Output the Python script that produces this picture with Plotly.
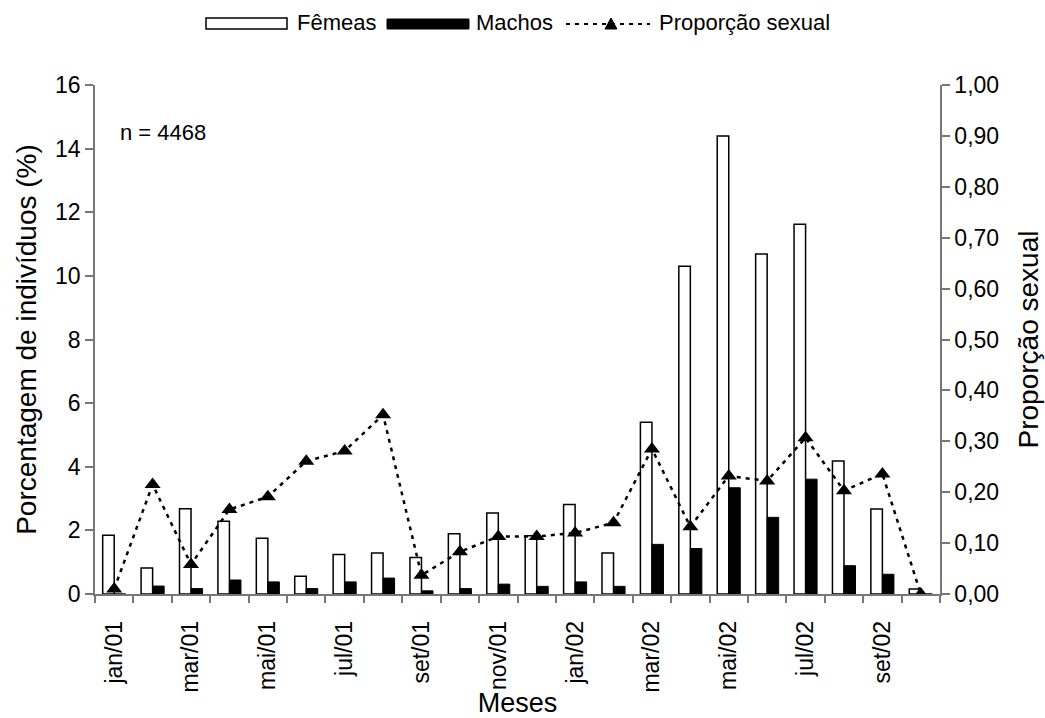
import plotly.graph_objects as go

# Monthly sampling, jan/2001 - out/2002
meses = ["jan/01", "fev/01", "mar/01", "abr/01", "mai/01", "jun/01", "jul/01",
         "ago/01", "set/01", "out/01", "nov/01", "dez/01", "jan/02", "fev/02",
         "mar/02", "abr/02", "mai/02", "jun/02", "jul/02", "ago/02", "set/02",
         "out/02"]

# Percentage of individuals (%)
femeas = [1.85, 0.82, 2.68, 2.29, 1.75, 0.56, 1.24, 1.29, 1.15, 1.89, 2.55,
          1.83, 2.81, 1.29, 5.40, 10.30, 14.40, 10.69, 11.62, 4.18, 2.67, 0.16]
machos = [0.00, 0.25, 0.17, 0.44, 0.38, 0.17, 0.38, 0.50, 0.10, 0.17, 0.31,
          0.24, 0.38, 0.24, 1.56, 1.43, 3.34, 2.41, 3.61, 0.89, 0.62, 0.00]

# Sex ratio (males / total)
proporcao = [0.01, 0.215, 0.058, 0.166, 0.191, 0.261, 0.281, 0.352, 0.037,
             0.083, 0.113, 0.113, 0.12, 0.14, 0.285, 0.132, 0.232, 0.222,
             0.307, 0.203, 0.236, 0.0]

n_total = 4468

FONT = "Liberation Sans, Arial, sans-serif"
AXIS_COLOR = "#777777"
TEXT_SIZE = 22
TICK_SIZE = 23
TITLE_SIZE = 28

x = list(range(len(meses)))
label_idx = x[::2]

fig = go.Figure()

fig.add_trace(go.Bar(
    x=x, y=femeas, name="Fêmeas",
    marker=dict(color="white", line=dict(color="black", width=1.5)),
))
fig.add_trace(go.Bar(
    x=x, y=machos, name="Machos",
    marker=dict(color="black", line=dict(color="black", width=1)),
))
fig.add_trace(go.Scatter(
    x=x, y=proporcao, name="Proporção sexual", yaxis="y2",
    mode="lines+markers",
    line=dict(color="black", width=2.5, dash="4px,5px"),
    marker=dict(symbol="triangle-up", size=14, color="black"),
))


# Hand-built legend row above the plot area (paper coordinates)
def px_x(px):
    return (px - 95) / 845


def px_y(py):
    return (594 - py) / 509


tri_path = "M {} {} L {} {} L {} {} Z".format(
    px_x(605), px_y(29), px_x(617), px_y(29), px_x(611), px_y(18))

shapes = [
    dict(type="rect", xref="paper", yref="paper",
         x0=px_x(206), x1=px_x(287), y0=px_y(29), y1=px_y(18),
         fillcolor="white", line=dict(color="black", width=1.5)),
    dict(type="rect", xref="paper", yref="paper",
         x0=px_x(387), x1=px_x(469), y0=px_y(29), y1=px_y(19),
         fillcolor="black", line=dict(color="black", width=1)),
    dict(type="line", xref="paper", yref="paper",
         x0=px_x(566), x1=px_x(650), y0=px_y(24), y1=px_y(24),
         line=dict(color="black", width=2, dash="4px,5px")),
    dict(type="path", xref="paper", yref="paper", path=tri_path,
         fillcolor="black", line=dict(color="black", width=1)),
]

annotations = [
    dict(text="Fêmeas", xref="paper", yref="paper", x=px_x(295), y=px_y(23),
         xanchor="left", yanchor="middle", showarrow=False,
         font=dict(family=FONT, size=TEXT_SIZE, color="black")),
    dict(text="Machos", xref="paper", yref="paper", x=px_x(474), y=px_y(23),
         xanchor="left", yanchor="middle", showarrow=False,
         font=dict(family=FONT, size=TEXT_SIZE, color="black")),
    dict(text="Proporção sexual", xref="paper", yref="paper", x=px_x(657), y=px_y(23),
         xanchor="left", yanchor="middle", showarrow=False,
         font=dict(family=FONT, size=TEXT_SIZE, color="black")),
    dict(text=f"n = {n_total}", xref="paper", yref="paper", x=px_x(118), y=px_y(133),
         xanchor="left", yanchor="middle", showarrow=False,
         font=dict(family=FONT, size=TEXT_SIZE, color="black")),
]

fig.update_layout(
    width=1045, height=718,
    margin=dict(l=95, r=105, t=85, b=124, autoexpand=False),
    paper_bgcolor="white", plot_bgcolor="white",
    separators=",.",
    font=dict(family=FONT, size=TICK_SIZE, color="black"),
    barmode="group", bargap=0.4, bargroupgap=0,
    showlegend=False,
    shapes=shapes, annotations=annotations,
    xaxis=dict(
        range=[-0.5, len(meses) - 0.5], automargin=False,
        tickmode="array", tickvals=label_idx,
        ticktext=[meses[i] for i in label_idx],
        tickangle=-90,
        ticks="outside", ticklen=16, tickcolor="rgba(0,0,0,0)",
        showgrid=False, zeroline=False,
        showline=True, linecolor=AXIS_COLOR, linewidth=1.5,
        tickfont=dict(family=FONT, size=TICK_SIZE, color="black"),
        minor=dict(tickmode="array",
                   tickvals=[i - 0.5 for i in x] + [len(meses) - 0.5],
                   ticks="outside", ticklen=7, tickwidth=1.5,
                   tickcolor=AXIS_COLOR, showgrid=False),
        title=dict(text="Meses", font=dict(family=FONT, size=TITLE_SIZE - 1), standoff=6),
    ),
    yaxis=dict(
        range=[0, 16], dtick=2, tick0=0, automargin=False,
        ticks="outside", ticklen=8, tickwidth=1.5, tickcolor=AXIS_COLOR,
        showline=True, linecolor=AXIS_COLOR, linewidth=1.5,
        showgrid=False, zeroline=False,
        tickfont=dict(family=FONT, size=TICK_SIZE, color="black"),
        title=dict(text="Porcentagem de indivíduos (%)",
                   font=dict(family=FONT, size=TITLE_SIZE), standoff=10),
    ),
    yaxis2=dict(
        overlaying="y", side="right", automargin=False,
        range=[0, 1], dtick=0.1, tick0=0, tickformat=".2f",
        ticks="outside", ticklen=8, tickwidth=1.5, tickcolor=AXIS_COLOR,
        showline=True, linecolor=AXIS_COLOR, linewidth=1.5,
        showgrid=False, zeroline=False,
        tickfont=dict(family=FONT, size=TICK_SIZE, color="black"),
        title=dict(text="Proporção sexual",
                   font=dict(family=FONT, size=TITLE_SIZE), standoff=20),
    ),
)

fig.write_html("out.html")
